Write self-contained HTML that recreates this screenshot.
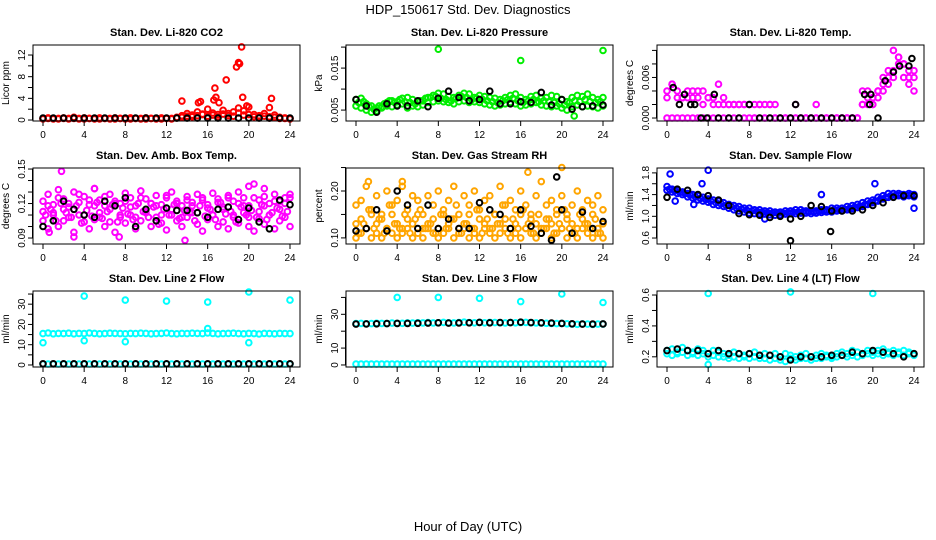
<!DOCTYPE html>
<html><head><meta charset="utf-8"><style>
body{margin:0;background:#fff}
svg{display:block;font-family:"Liberation Sans",sans-serif}
</style></head><body>
<svg id="c" width="936" height="540" viewBox="0 0 936 540" xmlns="http://www.w3.org/2000/svg">
<rect width="936" height="540" fill="#fff"/>
<text x="468" y="14" text-anchor="middle" font-size="13">HDP_150617  Std. Dev. Diagnostics</text>
<text x="468" y="531" text-anchor="middle" font-size="13">Hour of Day (UTC)</text>
</svg>
<script>
// ---- data ----
const xTicks = [0,4,8,12,16,20,24];
const co2Red = [0.3,0.4,0.3,0.3,0.4,0.3,0.5,0.3,0.4,0.3,0.3,0.4,0.3,0.3,0.4,0.3,0.3,0.4,0.3,0.3,0.4,0.3,0.3,0.4,0.3,0.3,0.5,0.8,1.2,0.9,1.5,1.1,2.0,1.3,1.0,1.8,1.2,1.5,2.2,1.7,2.4,1.0,0.8,1.2,0.6,0.9,0.5,0.4,0.3];
const co2Red2 = [0.2,0.3,0.2,0.2,0.3,0.2,0.3,0.2,0.2,0.3,0.2,0.2,0.3,0.2,0.2,0.3,0.2,0.2,0.3,0.2,0.2,0.3,0.2,0.2,0.3,0.2,0.4,0.5,0.7,0.6,0.8,1.0,0.7,0.9,0.6,1.1,0.8,0.7,1.3,0.9,1.0,0.6,0.5,0.7,0.4,0.5,0.3,0.3,0.2];
const co2SpikeHours = [13.5,15.1,15.3,16.7,16.8,17.1,17.8,18.8,19.0,19.1,19.3,19.4,22.0,22.2,16.6,19.8];
const co2SpikeVals = [3.5,3.2,3.4,5.9,4.2,3.2,7.4,9.8,10.6,10.4,13.5,4.2,2.3,4.0,3.7,2.6];
const co2Black = [0.35,0.35,0.35,0.35,0.35,0.35,0.35,0.35,0.35,0.35,0.35,0.35,0.35,0.35,0.35,0.35,0.35,0.35,0.35,0.35,0.35,0.35,0.35,0.35,0.35];

const presA = [0.0075,0.0078,0.0065,0.0060,0.0055,0.0058,0.0068,0.0072,0.0070,0.0078,0.0080,0.0075,0.0070,0.0072,0.0080,0.0085,0.0090,0.0088,0.0082,0.0080,0.0085,0.0090,0.0088,0.0080,0.0085,0.0082,0.0080,0.0078,0.0075,0.0080,0.0085,0.0088,0.0080,0.0075,0.0082,0.0085,0.0078,0.0080,0.0085,0.0082,0.0075,0.0070,0.0080,0.0085,0.0082,0.0088,0.0080,0.0075,0.0080];
const presB = [0.0060,0.0055,0.0050,0.0045,0.0048,0.0055,0.0060,0.0058,0.0062,0.0065,0.0055,0.0060,0.0058,0.0062,0.0068,0.0070,0.0072,0.0070,0.0068,0.0065,0.0070,0.0072,0.0068,0.0070,0.0068,0.0065,0.0062,0.0060,0.0062,0.0065,0.0068,0.0065,0.0060,0.0062,0.0065,0.0068,0.0062,0.0060,0.0058,0.0060,0.0055,0.0050,0.0058,0.0062,0.0058,0.0060,0.0058,0.0055,0.0060];
const presC = [0.0068,0.0070,0.0058,0.0052,0.0060,0.0065,0.0072,0.0068,0.0075,0.0070,0.0068,0.0065,0.0072,0.0078,0.0080,0.0082,0.0078,0.0075,0.0072,0.0078,0.0082,0.0080,0.0075,0.0078,0.0076,0.0072,0.0070,0.0068,0.0072,0.0075,0.0078,0.0072,0.0068,0.0072,0.0075,0.0070,0.0072,0.0070,0.0068,0.0065,0.0062,0.0068,0.0072,0.0070,0.0075,0.0070,0.0068,0.0070];
const presOutHours = [8,16,24,21.2];
const presOutVals = [0.0195,0.0168,0.0192,0.0036];
const presBlack = [0.0075,0.0060,0.0045,0.0065,0.0060,0.0060,0.0072,0.0058,0.0078,0.0095,0.0080,0.0072,0.0075,0.0095,0.0065,0.0065,0.0070,0.0068,0.0092,0.0062,0.0075,0.0052,0.0058,0.0060,0.0062];

const tempA = [0.004,0.005,0.004,0.003,0.004,0.003,0.004,0.004,0.003,0.003,0.005,0.003,0.002,0.002,0.002,0.002,0.002,0.002,0.002,0.002,0.002,0.002,0,0,0,0.002,0,0,0,0.002,0,0,0,0,0,0,0,0,0.004,0.004,0.003,0.004,0.005,0.006,0.007,0.009,0.008,0.007,0.007];
const tempB = [0,0,0,0,0,0,0,0,0,0,0,0,0,0,0,0,0,0,0,0,0,0,0,0,0,0,0,0,0,0,0,0,0,0,0,0,0,0,0.002,0.003,0.002,0.004,0.006,0.005,0.006,0.008,0.006,0.005,0.006];
const tempC = [0.003,0.005,0.003,0.003,0.003,0.004,0.003,0.002,0.003,0.002,0.002,0.002,0.002,0.002,0.002,0.002,0.002,0,0.002,0,0.002,0,0,0,0,0,0,0,0,0,0,0,0,0,0,0,0,0,0.002,0.002,0.002,0.003,0.004,0.007,0.010,0.009,0.008,0.006,0.004];
const tempBlackHours = [0.6,1.2,1.7,2.3,2.7,3.3,3.9,4.6,5,6,7,8,9,10,11,12,12.5,13,14,15,16,17,18,19.2,19.7,19.8,20.5,21.2,22,22.6,23.5,23.8];
const tempBlack = [0.0045,0.002,0.0035,0.002,0.002,0,0,0.0035,0,0,0,0.002,0,0,0,0,0.002,0,0,0,0,0,0,0.0035,0.002,0.0035,0,0.0055,0.0068,0.0077,0.0077,0.0088];

const ambA = [0.113,0.118,0.110,0.125,0.105,0.120,0.115,0.128,0.110,0.123,0.118,0.108,0.126,0.115,0.120,0.110,0.122,0.117,0.108,0.125,0.113,0.120,0.118,0.110,0.127,0.115,0.120,0.108,0.123,0.118,0.112,0.125,0.116,0.110,0.121,0.115,0.125,0.110,0.120,0.118,0.108,0.125,0.113,0.118,0.110,0.122,0.115,0.120,0.125];
const ambB = [0.105,0.098,0.112,0.100,0.115,0.108,0.095,0.110,0.104,0.098,0.106,0.112,0.100,0.104,0.095,0.108,0.103,0.110,0.098,0.105,0.112,0.100,0.108,0.103,0.097,0.110,0.105,0.100,0.108,0.112,0.102,0.096,0.106,0.110,0.100,0.104,0.098,0.108,0.103,0.112,0.100,0.096,0.107,0.102,0.110,0.098,0.105,0.108,0.100];
const ambC = [0.122,0.128,0.119,0.132,0.124,0.117,0.130,0.121,0.126,0.119,0.133,0.123,0.118,0.128,0.122,0.120,0.129,0.125,0.118,0.131,0.124,0.120,0.127,0.119,0.125,0.130,0.122,0.118,0.126,0.121,0.128,0.123,0.119,0.129,0.124,0.117,0.127,0.122,0.130,0.125,0.118,0.137,0.123,0.126,0.120,0.128,0.122,0.125,0.128];
const ambD = [0.110,0.115,0.105,0.120,0.112,0.108,0.118,0.103,0.114,0.109,0.121,0.107,0.113,0.119,0.104,0.116,0.111,0.106,0.120,0.113,0.108,0.117,0.102,0.115,0.110,0.119,0.107,0.114,0.112,0.105,0.118,0.109,0.115,0.106,0.121,0.111,0.113,0.104,0.117,0.110,0.114,0.108,0.119,0.106,0.112,0.116,0.109,0.113];
const ambOutHours = [1.8,13.8,5,20,21.5,0.6,3,7.4];
const ambOutVals = [0.148,0.088,0.133,0.135,0.133,0.095,0.091,0.091];
const ambBlack = [0.100,0.105,0.122,0.115,0.110,0.108,0.122,0.118,0.125,0.100,0.115,0.105,0.116,0.114,0.114,0.112,0.108,0.115,0.117,0.106,0.116,0.104,0.098,0.123,0.119];

const rhA = [0.17,0.18,0.21,0.16,0.19,0.15,0.20,0.17,0.18,0.21,0.16,0.19,0.18,0.15,0.19,0.17,0.20,0.16,0.18,0.21,0.15,0.19,0.17,0.20,0.16,0.18,0.19,0.15,0.21,0.17,0.18,0.16,0.20,0.17,0.15,0.19,0.22,0.17,0.18,0.16,0.19,0.15,0.17,0.20,0.16,0.18,0.17,0.19,0.16];
const rhB = [0.13,0.14,0.12,0.15,0.13,0.14,0.12,0.15,0.13,0.12,0.14,0.13,0.15,0.12,0.13,0.14,0.12,0.15,0.13,0.14,0.12,0.13,0.15,0.12,0.14,0.13,0.12,0.15,0.13,0.14,0.12,0.13,0.15,0.12,0.14,0.13,0.12,0.14,0.13,0.15,0.12,0.14,0.13,0.12,0.14,0.13,0.15,0.12,0.13];
const rhC = [0.10,0.11,0.12,0.10,0.11,0.10,0.12,0.11,0.10,0.11,0.12,0.10,0.11,0.10,0.12,0.11,0.10,0.11,0.12,0.10,0.11,0.12,0.10,0.11,0.10,0.12,0.11,0.10,0.11,0.12,0.10,0.11,0.10,0.12,0.11,0.10,0.11,0.12,0.10,0.11,0.12,0.10,0.11,0.10,0.12,0.11,0.10,0.11,0.10];
const rhD = [0.11,0.13,0.16,0.12,0.14,0.11,0.17,0.13,0.12,0.15,0.11,0.14,0.16,0.12,0.13,0.11,0.15,0.12,0.14,0.17,0.11,0.13,0.12,0.16,0.11,0.14,0.12,0.13,0.17,0.11,0.14,0.12,0.16,0.13,0.11,0.15,0.12,0.14,0.11,0.13,0.16,0.12,0.11,0.15,0.13,0.12,0.14,0.11];
const rhOutHours = [20,16.7,1.2,4.5];
const rhOutVals = [0.25,0.24,0.22,0.22];
const rhBlack = [0.115,0.120,0.160,0.115,0.200,0.170,0.120,0.170,0.120,0.140,0.120,0.120,0.175,0.160,0.150,0.120,0.160,0.125,0.110,0.095,0.160,0.110,0.155,0.120,0.135];
const rhBlackOutHours = [19.5];
const rhBlackOutVals = [0.23];

const flowA = [1.55,1.5,1.48,1.45,1.42,1.4,1.38,1.35,1.32,1.3,1.28,1.25,1.22,1.2,1.18,1.15,1.15,1.12,1.12,1.1,1.1,1.08,1.08,1.1,1.1,1.12,1.12,1.1,1.1,1.1,1.12,1.12,1.15,1.15,1.15,1.18,1.2,1.22,1.25,1.28,1.3,1.35,1.38,1.42,1.42,1.42,1.4,1.42,1.4];
const flowB = [1.48,1.45,1.42,1.4,1.36,1.34,1.3,1.28,1.26,1.22,1.2,1.18,1.15,1.12,1.1,1.08,1.06,1.05,1.05,1.04,1.03,1.02,1.03,1.04,1.05,1.05,1.06,1.06,1.05,1.06,1.07,1.08,1.08,1.1,1.1,1.12,1.14,1.16,1.18,1.22,1.25,1.28,1.32,1.35,1.36,1.38,1.36,1.38,1.36];
const flowC = [1.5,1.47,1.44,1.42,1.39,1.36,1.33,1.31,1.28,1.25,1.23,1.2,1.18,1.15,1.13,1.11,1.1,1.09,1.08,1.07,1.06,1.06,1.06,1.07,1.08,1.08,1.09,1.08,1.08,1.09,1.1,1.1,1.12,1.12,1.13,1.15,1.17,1.19,1.22,1.25,1.28,1.32,1.35,1.38,1.39,1.4,1.39,1.4];
const flowOutHours = [0.3,4,20.2,24,0.8,3.4,2.6,15,9.5];
const flowOutVals = [1.78,1.85,1.6,1.15,1.28,1.6,1.22,1.4,0.95];
const flowBlack = [1.35,1.5,1.48,1.4,1.38,1.3,1.2,1.05,1.03,1.02,0.98,1.0,0.95,1.0,1.2,1.18,1.1,1.1,1.1,1.12,1.2,1.25,1.35,1.38,1.38];
const flowBlackOutHours = [12,15.9];
const flowBlackOutVals = [0.55,0.72];

const l2Band = [15.5,15.8,15.4,15.6,15.5,15.7,15.4,15.6,15.5,15.8,15.6,15.4,15.5,15.7,15.6,15.5,15.4,15.6,15.5,15.7,15.6,15.4,15.5,15.6,15.8,15.5,15.4,15.6,15.5,15.7,15.6,15.5,15.8,15.6,15.4,15.5,15.6,15.7,15.5,15.4,15.6,15.5,15.3,15.6,15.5,15.4,15.6,15.5,15.5];
const l2Zero = [0.5,0.5,0.5,0.5,0.5,0.5,0.5,0.5,0.5,0.5,0.5,0.5,0.5,0.5,0.5,0.5,0.5,0.5,0.5,0.5,0.5,0.5,0.5,0.5,0.5,0.5,0.5,0.5,0.5,0.5,0.5,0.5,0.5,0.5,0.5,0.5,0.5,0.5,0.5,0.5,0.5,0.5,0.5,0.5,0.5,0.5,0.5,0.5,0.5];
const l2OutHours = [4,8,12,16,20,24,0,4,8,16,20];
const l2OutVals = [34,32,31.5,31,36,32,11,12,11.5,18,11];
const l2Black = [0.6,0.6,0.6,0.6,0.6,0.6,0.6,0.6,0.6,0.6,0.6,0.6,0.6,0.6,0.6,0.6,0.6,0.6,0.6,0.6,0.6,0.6,0.6,0.6,0.6];

const l3Band = [24.5,24.6,24.4,24.5,24.7,24.6,24.5,24.8,24.6,24.7,24.9,24.8,25.0,24.9,25.1,24.9,25.0,25.2,25.0,24.9,25.1,25.3,25.1,25.0,25.2,25.0,25.2,25.1,25.0,24.9,25.1,25.0,25.1,25.2,25.0,24.9,24.8,24.7,24.6,24.5,24.6,24.4,24.2,24.1,24.3,24.2,24.0,24.2,24.2];
const l3Zero = [0.5,0.5,0.5,0.5,0.5,0.5,0.5,0.5,0.5,0.5,0.5,0.5,0.5,0.5,0.5,0.5,0.5,0.5,0.5,0.5,0.5,0.5,0.5,0.5,0.5,0.5,0.5,0.5,0.5,0.5,0.5,0.5,0.5,0.5,0.5,0.5,0.5,0.5,0.5,0.5,0.5,0.5,0.5,0.5,0.5,0.5,0.5,0.5,0.5];
const l3OutHours = [4,8,12,16,20,24];
const l3OutVals = [40,40,39.5,37.5,42,37];
const l3Black = [24.2,24.3,24.4,24.5,24.6,24.6,24.7,24.8,25.0,24.8,24.9,25.0,25.2,25.0,25.1,25.1,25.3,25.1,25.0,24.8,24.6,24.4,24.2,24.2,24.3];

const l4A = [0.24,0.25,0.23,0.26,0.24,0.23,0.25,0.24,0.22,0.24,0.23,0.22,0.21,0.23,0.22,0.21,0.22,0.23,0.21,0.22,0.21,0.22,0.20,0.22,0.21,0.20,0.21,0.22,0.20,0.21,0.22,0.21,0.20,0.22,0.23,0.22,0.24,0.23,0.22,0.24,0.23,0.24,0.25,0.23,0.24,0.23,0.24,0.23,0.22];
const l4B = [0.22,0.21,0.22,0.23,0.21,0.22,0.21,0.22,0.20,0.21,0.20,0.20,0.19,0.20,0.19,0.20,0.19,0.20,0.19,0.19,0.18,0.19,0.18,0.17,0.19,0.18,0.19,0.19,0.18,0.19,0.19,0.20,0.19,0.20,0.21,0.20,0.21,0.20,0.21,0.22,0.21,0.22,0.21,0.22,0.21,0.22,0.21,0.22,0.21];
const l4OutHours = [4,12,20,4];
const l4OutVals = [0.61,0.62,0.61,0.15];
const l4Black = [0.24,0.25,0.24,0.24,0.22,0.24,0.22,0.22,0.22,0.21,0.21,0.20,0.18,0.20,0.20,0.20,0.21,0.21,0.23,0.22,0.24,0.23,0.22,0.20,0.22];

const halfHours = []; for (let i = 0; i <= 48; i++) halfHours.push(i / 2);
const offHours = []; for (let i = 0; i < 48; i++) offHours.push(i / 2 + 0.25);
const wholeHours = []; for (let i = 0; i <= 24; i++) wholeHours.push(i);

// ---- layout ----
const NS = 'http://www.w3.org/2000/svg';
const svg = document.getElementById('c');
function el(tag, attrs, parent) { const e = document.createElementNS(NS, tag); for (const k in attrs) e.setAttribute(k, attrs[k]); (parent || svg).appendChild(e); return e; }

const colL = [33, 346, 657], rowT = [45, 168, 291], W = 267, H = 76;

const panels = [
 {name:'co2', title:'Stan. Dev. Li-820 CO2', ylab:'Licor ppm', c:0, r:0, ymin:-0.18, ymax:13.85, ticks:[0,2,4,6,8,10,12], labels:{0:'0',4:'4',8:'8',12:'12'},
  series:[['#ff0000',halfHours,co2Red2],['#ff0000',halfHours,co2Red],['#ff0000',co2SpikeHours,co2SpikeVals],['#000000',wholeHours,co2Black]]},
 {name:'pressure', title:'Stan. Dev. Li-820 Pressure', ylab:'kPa', c:1, r:0, ymin:0.0024, ymax:0.0205, ticks:[0.005,0.010,0.015,0.020], labels:{0.005:'0.005',0.015:'0.015'},
  series:[['#00ee00',halfHours,presA],['#00ee00',halfHours,presB],['#00ee00',offHours,presC],['#00ee00',presOutHours,presOutVals],['#000000',wholeHours,presBlack]]},
 {name:'temp', title:'Stan. Dev. Li-820 Temp.', ylab:'degrees C', c:2, r:0, ymin:-0.00044, ymax:0.0108, ticks:[0,0.002,0.004,0.006,0.008,0.010], labels:{0:'0.000',0.006:'0.006'},
  series:[['#ff00ff',halfHours,tempA],['#ff00ff',halfHours,tempB],['#ff00ff',halfHours,tempC],['#000000',tempBlackHours,tempBlack]]},
 {name:'amb-temp', title:'Stan. Dev. Amb. Box Temp.', ylab:'degrees C', c:0, r:1, ymin:0.0848, ymax:0.1509, ticks:[0.09,0.10,0.11,0.12,0.13,0.14,0.15], labels:{0.09:'0.09',0.12:'0.12',0.15:'0.15'},
  series:[['#ff00ff',halfHours,ambA],['#ff00ff',halfHours,ambB],['#ff00ff',halfHours,ambC],['#ff00ff',offHours,ambD],['#ff00ff',ambOutHours,ambOutVals],['#000000',wholeHours,ambBlack]]},
 {name:'rh', title:'Stan. Dev. Gas Stream RH', ylab:'percent', c:1, r:1, ymin:0.087, ymax:0.249, ticks:[0.10,0.15,0.20,0.25], labels:{0.1:'0.10',0.2:'0.20'},
  series:[['#ffa500',halfHours,rhA],['#ffa500',halfHours,rhB],['#ffa500',halfHours,rhC],['#ffa500',offHours,rhD],['#ffa500',rhOutHours,rhOutVals],['#000000',wholeHours,rhBlack],['#000000',rhBlackOutHours,rhBlackOutVals]]},
 {name:'sample-flow', title:'Stan. Dev. Sample Flow', ylab:'ml/min', c:2, r:1, ymin:0.49, ymax:1.89, ticks:[0.6,0.8,1.0,1.2,1.4,1.6,1.8], labels:{0.6:'0.6',1:'1.0',1.4:'1.4',1.8:'1.8'},
  series:[['#0000ff',halfHours,flowA],['#0000ff',halfHours,flowB],['#0000ff',offHours,flowC],['#0000ff',flowOutHours,flowOutVals],['#000000',wholeHours,flowBlack],['#000000',flowBlackOutHours,flowBlackOutVals]]},
 {name:'line2', title:'Stan. Dev. Line 2 Flow', ylab:'ml/min', c:0, r:2, ymin:-1, ymax:36.5, ticks:[0,5,10,15,20,25,30,35], labels:{0:'0',10:'10',20:'20',30:'30'},
  series:[['#00ffff',halfHours,l2Band],['#00ffff',halfHours,l2Zero],['#00ffff',l2OutHours,l2OutVals],['#000000',wholeHours,l2Black]]},
 {name:'line3', title:'Stan. Dev. Line 3 Flow', ylab:'ml/min', c:1, r:2, ymin:-1.2, ymax:43.8, ticks:[0,10,20,30,40], labels:{0:'0',10:'10',30:'30'},
  series:[['#00ffff',halfHours,l3Band],['#00ffff',halfHours,l3Zero],['#00ffff',l3OutHours,l3OutVals],['#000000',wholeHours,l3Black]]},
 {name:'line4', title:'Stan. Dev. Line 4 (LT) Flow', ylab:'ml/min', c:2, r:2, ymin:0.134, ymax:0.626, ticks:[0.2,0.3,0.4,0.5,0.6], labels:{0.2:'0.2',0.4:'0.4',0.6:'0.6'},
  series:[['#00ffff',halfHours,l4A],['#00ffff',halfHours,l4B],['#00ffff',l4OutHours,l4OutVals],['#000000',wholeHours,l4Black]]}
];

panels.forEach(p => {
  const L = colL[p.c], T = rowT[p.r];
  const xs = h => L + 10 + h * (247 / 24);
  const ys = v => T + H - (v - p.ymin) / (p.ymax - p.ymin) * H;
  const g = el('g', {});
  
  
  const t = el('text', {x: L + W / 2, y: T - 9, 'text-anchor': 'middle', 'font-size': 11, 'font-weight': 'bold'}, g);
  t.textContent = p.title;
  
  
  const yl = el('text', {x: 0, y: 0, 'text-anchor': 'middle', 'font-size': 10, transform: `translate(${L - 24},${T + H / 2}) rotate(-90)`}, g);
  yl.textContent = p.ylab;
  
  
  p.series.forEach((s, si) => {
    const sg = el('g', {fill: 'none', stroke: s[0], 'stroke-width': 2}, g);
    
    
    s[2].forEach((v, i) => {
      const pt = el('circle', {cx: xs(s[1][i]).toFixed(1), cy: ys(v).toFixed(1), r: 2.8}, sg);
      
      
    });
  });
  const box = el('rect', {x: L, y: T, width: W, height: H, fill: 'none', stroke: '#000', 'stroke-width': 1}, g);
  
  
  const ya = el('g', {stroke: '#000', 'stroke-width': 1}, g);
  
  
  p.ticks.forEach(v => {
    const y = ys(v);
    el('line', {x1: L - 5, x2: L, y1: y, y2: y}, ya);
    const key = Object.keys(p.labels).find(k => Math.abs(parseFloat(k) - v) < 1e-9);
    if (key !== undefined) {
      const tl = el('text', {x: 0, y: 0, 'text-anchor': 'middle', 'font-size': 10, stroke: 'none', fill: '#000', transform: `translate(${L - 8},${y}) rotate(-90)`}, g);
      tl.textContent = p.labels[key];
      
      
    }
  });
  el('line', {x1: L - 0.5, x2: L - 0.5, y1: ys(p.ticks[p.ticks.length - 1]), y2: ys(p.ticks[0])}, ya);
  const xa = el('g', {stroke: '#000', 'stroke-width': 1}, g);
  
  
  xTicks.forEach(h => {
    const x = xs(h);
    el('line', {x1: x, x2: x, y1: T + H, y2: T + H + 5}, xa);
    const tl = el('text', {x: x, y: T + H + 17, 'text-anchor': 'middle', 'font-size': 10, stroke: 'none', fill: '#000'}, g);
    tl.textContent = h;
    
    
  });
});
</script>
</body></html>
